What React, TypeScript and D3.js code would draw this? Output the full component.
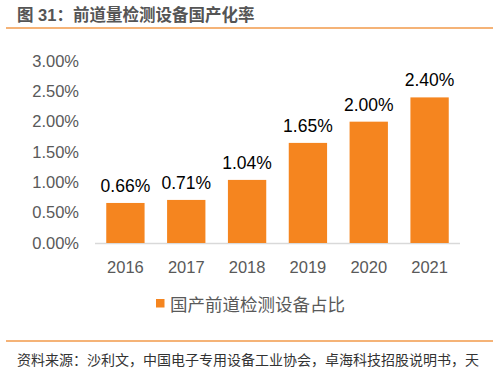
import React from 'react';
import * as d3 from 'd3';

const years = ['2016', '2017', '2018', '2019', '2020', '2021'];
const shares = [0.66, 0.71, 1.04, 1.65, 2.0, 2.4];
const yTicks = [0, 0.5, 1, 1.5, 2, 2.5, 3];

const title = '图 31：前道量检测设备国产化率';
const seriesName = '国产前道检测设备占比';
const source = '资料来源：沙利文，中国电子专用设备工业协会，卓海科技招股说明书，天';

const App = () => {
  const width = 499;
  const height = 372;
  const font = '"Liberation Sans", Arial, "Noto Sans CJK SC", sans-serif';

  // plot area
  const plot = { left: 95, right: 460, top: 61, bottom: 243 };

  const xScale = d3
    .scaleBand()
    .domain(years)
    .range([plot.left, plot.right])
    .paddingInner(0.37)
    .paddingOuter(0.185);

  const yScale = d3.scaleLinear().domain([0, 3]).range([plot.bottom, plot.top]);

  const bars = years.map((yr, i) => (
    <g key={yr}>
      <rect
        x={xScale(yr)}
        y={yScale(shares[i])}
        width={xScale.bandwidth()}
        height={plot.bottom - yScale(shares[i])}
        fill="#F5851F"
      />
      <text
        x={(xScale(yr) as number) + xScale.bandwidth() / 2}
        y={yScale(shares[i]) - 11}
        textAnchor="middle"
        fontSize={17.5}
        fill="#000"
      >
        {shares[i].toFixed(2) + '%'}
      </text>
      <text
        x={(xScale(yr) as number) + xScale.bandwidth() / 2}
        y={plot.bottom + 30}
        textAnchor="middle"
        fontSize={16.5}
        fill="#595959"
      >
        {yr}
      </text>
    </g>
  ));

  const ticks = yTicks.map((t) => (
    <text
      key={t}
      x={79}
      y={yScale(t)}
      dy="0.35em"
      textAnchor="end"
      fontSize={16.5}
      fill="#595959"
    >
      {t.toFixed(2) + '%'}
    </text>
  ));

  return (
    <svg
      width={width}
      height={height}
      style={{ position: 'absolute', left: 0, top: 0, background: '#fff' }}
      fontFamily={font}
    >
      <text x={17} y={21} fontSize={16.5} fontWeight="bold" fill="#555">
        {title}
      </text>
      <line x1={6} x2={493} y1={28} y2={28} stroke="#F29A4A" strokeWidth={1.5} />

      {ticks}
      <line x1={plot.left} x2={plot.right} y1={plot.bottom + 0.5} y2={plot.bottom + 0.5} stroke="#D9D9D9" strokeWidth={1.5} />
      {bars}

      <rect x={156} y={299} width={8.5} height={8.5} fill="#F5851F" />
      <text x={170} y={311} fontSize={17.5} fill="#595959">
        {seriesName}
      </text>

      <line x1={6} x2={493} y1={341} y2={341} stroke="#F29A4A" strokeWidth={1.5} />
      <text x={17} y={365} fontSize={14} fill="#333">
        {source}
      </text>
    </svg>
  );
};

export default App;
